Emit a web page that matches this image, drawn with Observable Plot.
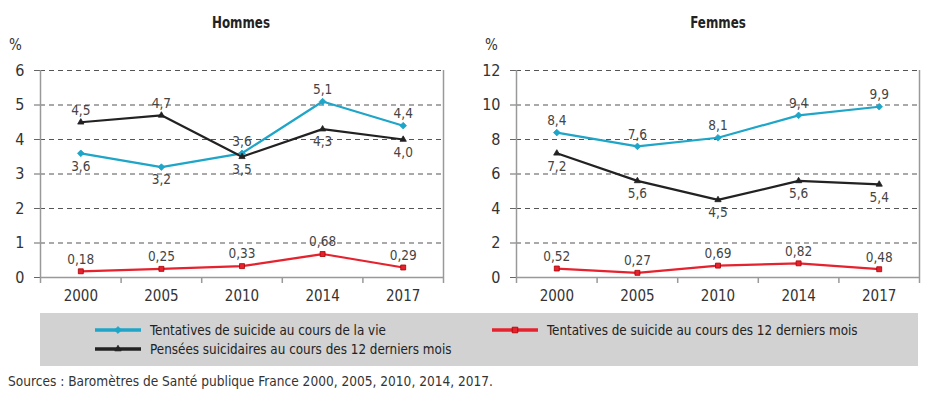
<!DOCTYPE html>
<html><head><meta charset="utf-8">
<script src="https://cdn.jsdelivr.net/npm/d3@7"></script>
<script src="https://cdn.jsdelivr.net/npm/@observablehq/plot@0.6"></script>
<style>
body{margin:0;background:#fff;font-family:"Liberation Sans Narrow","Arial Narrow","DejaVu Sans Condensed",sans-serif;}
#wrap{position:relative;width:933px;height:399px;overflow:hidden;}
.ttl{position:absolute;top:14px;font-size:15px;font-weight:bold;color:#222;transform:translateX(-50%) scaleX(0.88);}
.pct{position:absolute;top:36px;font-size:15px;color:#333;}
#legend{position:absolute;left:40px;top:313px;width:878px;height:53px;background:#d2d2d2;}
.li{position:absolute;font-size:14.5px;color:#222;display:flex;align-items:center;white-space:nowrap;}
.li svg{margin-right:9px;}
.sq{display:inline-block;transform:scaleX(0.92);transform-origin:left center;}
#src{position:absolute;left:8px;top:373px;font-size:14px;color:#333;transform:scaleX(0.97);transform-origin:left center;white-space:nowrap;}
</style></head><body>
<div id="wrap">
  <div class="ttl" style="left:241px">Hommes</div>
  <div class="ttl" style="left:718px">Femmes</div>
  <div class="pct" style="left:9px">%</div>
  <div class="pct" style="left:485px">%</div>
  <div id="left" style="position:absolute;left:0;top:0"></div>
  <div id="right" style="position:absolute;left:466px;top:0"></div>
  <div id="legend"></div>
  <div id="src">Sources : Baromètres de Santé publique France 2000, 2005, 2010, 2014, 2017.</div>
</div>
<script>
const years = ["2000","2005","2010","2014","2017"];
const hommesVie = [3.6,3.2,3.6,5.1,4.4];
const hommesPensees = [4.5,4.7,3.5,4.3,4.0];
const hommes12 = [0.18,0.25,0.33,0.68,0.29];
const femmesVie = [8.4,7.6,8.1,9.4,9.9];
const femmesPensees = [7.2,5.6,4.5,5.6,5.4];
const femmes12 = [0.52,0.27,0.69,0.82,0.48];
const hommesTicks = [0,1,2,3,4,5,6];
const femmesTicks = [0,2,4,6,8,10,12];
const seriesNames = ["Tentatives de suicide au cours de la vie","Pensées suicidaires au cours des 12 derniers mois","Tentatives de suicide au cours des 12 derniers mois"];
const colors = ["#1ea5c8","#222222","#e5222e"];
const symbols = ["diamond2","triangle2","square2"];

const fmt = v => (v < 1 ? v.toFixed(2) : v.toFixed(1)).replace(".", ",");
const FONT = '"Liberation Sans Narrow","Arial Narrow","DejaVu Sans Condensed",sans-serif';

function chart(vie, pensees, douze, ticks, width, mL, mR) {
  const rows = [];
  [vie, pensees, douze].forEach((arr, s) => arr.forEach((v, i) => {
    let above = true;
    if (s === 0) above = v >= pensees[i];
    if (s === 1) above = v > vie[i];
    rows.push({i: i + 0.5, v, s, name: seriesNames[s], above});
  }));
  const yMax = ticks[ticks.length - 1];
  return Plot.plot({
    width, height: 310,
    marginLeft: mL, marginRight: mR, marginTop: 70, marginBottom: 33,
    style: {fontFamily: FONT, color: "#333", background: "transparent"},
    x: {type: "linear", domain: [0, 5], label: null},
    y: {domain: [0, yMax], label: null},
    marks: [
      Plot.ruleY(ticks.filter(t => t > 0), {stroke: "#555", strokeWidth: 1.2, strokeDasharray: "5,4"}),
      Plot.axisY(ticks, {tickSize: 6, tickPadding: 10, fontSize: 16, stroke: "#666", tickFormat: d => d, label: null}),
      Plot.ruleX([0, 5], {y1: 0, y2: yMax, stroke: "#999", strokeWidth: 1.5}),
      Plot.ruleY([0], {stroke: "#999", strokeWidth: 1.5}),
      Plot.axisX(d3.range(0, 6), {tickSize: 6, tickFormat: () => "", stroke: "#999", strokeWidth: 1.5, label: null}),
      Plot.axisX(d3.range(0, 5).map(d => d + 0.5), {tickSize: 0, tickPadding: 13, fontSize: 15, tickFormat: d => years[Math.floor(d)], label: null}),
      Plot.line(rows, {x: "i", y: "v", z: "s", stroke: d => colors[d.s], strokeWidth: 2.2}),
      Plot.dot(rows, {x: "i", y: "v", symbol: d => symbols[d.s], fill: d => colors[d.s], stroke: d => d.s === 2 ? "#a00" : colors[d.s], strokeWidth: 0.8, r: d => d.s === 2 ? 4 : 3.6}),
      Plot.text(rows.filter(d => d.above), {x: "i", y: "v", text: d => fmt(d.v), dy: -12, fontSize: 13.5, fill: "#444"}),
      Plot.text(rows.filter(d => !d.above), {x: "i", y: "v", text: d => fmt(d.v), dy: 13, fontSize: 13.5, fill: "#444"})
    ]
  });
}

document.getElementById("left").appendChild(chart(hommesVie, hommesPensees, hommes12, hommesTicks, 466, 40, 23));
document.getElementById("right").appendChild(chart(femmesVie, femmesPensees, femmes12, femmesTicks, 467, 50, 14));

// legend
const legend = document.getElementById("legend");
const items = [[0, 55, 18], [2, 452, 18], [1, 55, 37]];
items.forEach(([s, x, y]) => {
  const div = document.createElement("div");
  div.className = "li";
  div.style.left = x + "px"; div.style.top = (y - 9) + "px";
  const sym = d3.symbol().type(s === 0 ? d3.symbolDiamond2 : s === 1 ? d3.symbolTriangle2 : d3.symbolSquare2).size(s === 2 ? 40 : 30)();
  div.innerHTML = `<svg width="46" height="12"><line x1="0" x2="46" y1="6" y2="6" stroke="${colors[s]}" stroke-width="3.5"/><path transform="translate(23,6)" d="${sym}" fill="${colors[s]}" stroke="${s===2?'#a00':colors[s]}" stroke-width="0.8"/></svg><span class="sq">${seriesNames[s]}</span>`;
  legend.appendChild(div);
});
</script>
</body></html>
